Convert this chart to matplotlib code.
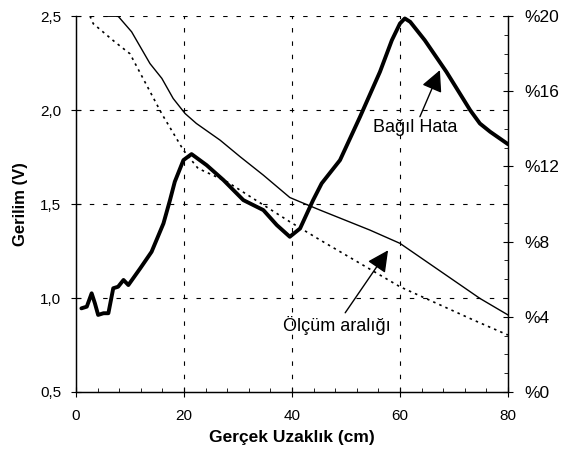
import numpy as np
import matplotlib.pyplot as plt
from matplotlib.ticker import MultipleLocator, FuncFormatter

plt.rcParams['font.family'] = ['Liberation Sans', 'DejaVu Sans']

# olcum araligi ust siniri (V)
ust_x = [5.7, 7.8, 10.3, 13.7, 15.9, 18.0, 20.2, 22.3, 26.7, 30.4, 34.7, 39.6,
         41.5, 45.2, 54.4, 60.0, 74.8, 80.0]
ust_y = [2.5, 2.5, 2.417, 2.248, 2.169, 2.062, 1.982, 1.929, 1.84, 1.752, 1.654,
         1.535, 1.512, 1.468, 1.362, 1.291, 0.998, 0.91]

# olcum araligi alt siniri (V)
alt_x = [2.6, 3.2, 7.2, 10.0, 15.9, 19.9, 22.6, 27.9, 32.8, 39.6, 45.2, 60.0,
         73.6, 80.0]
alt_y = [2.5, 2.46, 2.363, 2.30, 1.98, 1.787, 1.69, 1.62, 1.53, 1.406, 1.309,
         1.06, 0.883, 0.803]

# bagil hata (%)
hata_x = [1.0, 2.0, 2.9, 3.5, 4.1, 5.1, 6.0, 6.9, 7.8, 8.8, 9.7, 11.9, 14.0,
          16.2, 17.4, 18.3, 19.9, 21.4, 24.2, 27.3, 31.0, 34.7, 37.2, 39.6,
          41.5, 43.9, 45.5, 48.9, 52.6, 56.3, 58.5, 60.0, 60.9, 61.9, 64.6,
          68.6, 73.0, 74.8, 76.7, 80.0]
hata_y = [4.45, 4.54, 5.25, 4.72, 4.1, 4.19, 4.19, 5.52, 5.6, 5.96, 5.69, 6.58,
          7.46, 8.97, 10.2, 11.19, 12.34, 12.66, 12.07, 11.28, 10.21, 9.68,
          8.88, 8.26, 8.7, 10.2, 11.1, 12.34, 14.64, 17.04, 18.72, 19.61,
          19.88, 19.7, 18.72, 17.04, 15.0, 14.29, 13.85, 13.19]

fig = plt.figure(figsize=(5.65, 4.5), dpi=100)
ax = fig.add_axes([0.1345, 0.129, 0.7645, 0.835])
ax2 = ax.twinx()

ax.set_xlim(0, 80)
ax.set_ylim(0.5, 2.5)
ax2.set_ylim(0, 20)

ax.plot(ust_x, ust_y, color='black', lw=1.0)
ax.plot(alt_x, alt_y, color='black', lw=1.2, ls=(0, (1.5, 2.5)))
ax2.plot(hata_x, hata_y, color='black', lw=2.8, solid_joinstyle='round',
         solid_capstyle='round')

# izgara
for gx in [20, 40, 60]:
    ax.axvline(gx, color='black', lw=0.8, ls=(0, (4, 8)), zorder=0)
for gy in [1.0, 1.5, 2.0, 2.5]:
    ax.axhline(gy, color='black', lw=0.8, ls=(0, (4, 8)), zorder=0)

for a in (ax, ax2):
    a.spines['top'].set_visible(False)
    a.spines['left'].set_linewidth(0.9)
    a.spines['right'].set_linewidth(0.9)
    a.spines['bottom'].set_linewidth(0.9)

ax.xaxis.set_major_locator(MultipleLocator(20))
ax.xaxis.set_minor_locator(MultipleLocator(4))
ax.yaxis.set_major_locator(MultipleLocator(0.5))
ax.yaxis.set_major_formatter(FuncFormatter(lambda v, p: f'{v:.1f}'.replace('.', ',')))
ax2.yaxis.set_major_locator(MultipleLocator(4))
ax2.yaxis.set_minor_locator(MultipleLocator(1))
ax2.yaxis.set_major_formatter(FuncFormatter(lambda v, p: f'%{v:.0f}'))

ax.tick_params(axis='x', which='major', direction='inout', length=7, labelsize=11, pad=9)
ax.tick_params(axis='x', which='minor', direction='in', length=3)
ax.tick_params(axis='y', which='major', direction='inout', length=7, labelsize=11, pad=7)
ax2.tick_params(axis='y', which='major', direction='inout', length=7, labelsize=12.5, pad=8)
ax2.tick_params(axis='y', which='minor', direction='in', length=3)

ax.set_xlabel('Gerçek Uzaklık (cm)', fontsize=12.5, fontweight='bold', labelpad=5)
ax.set_ylabel('Gerilim (V)', fontsize=12, fontweight='bold', labelpad=9)

ok = dict(arrowstyle='-|>,head_length=1.0,head_width=0.5', color='black', lw=1.0,
          shrinkA=0, shrinkB=0)
ax.annotate('Bağıl Hata', xy=(67.4, 2.213), xytext=(62.8, 1.905),
            fontsize=13, ha='center', va='center', arrowprops=ok)
ax.annotate('Ölçüm aralığı', xy=(57.8, 1.254), xytext=(48.3, 0.856),
            fontsize=13, ha='center', va='center', arrowprops=ok)

fig.savefig('out.png', dpi=100)
